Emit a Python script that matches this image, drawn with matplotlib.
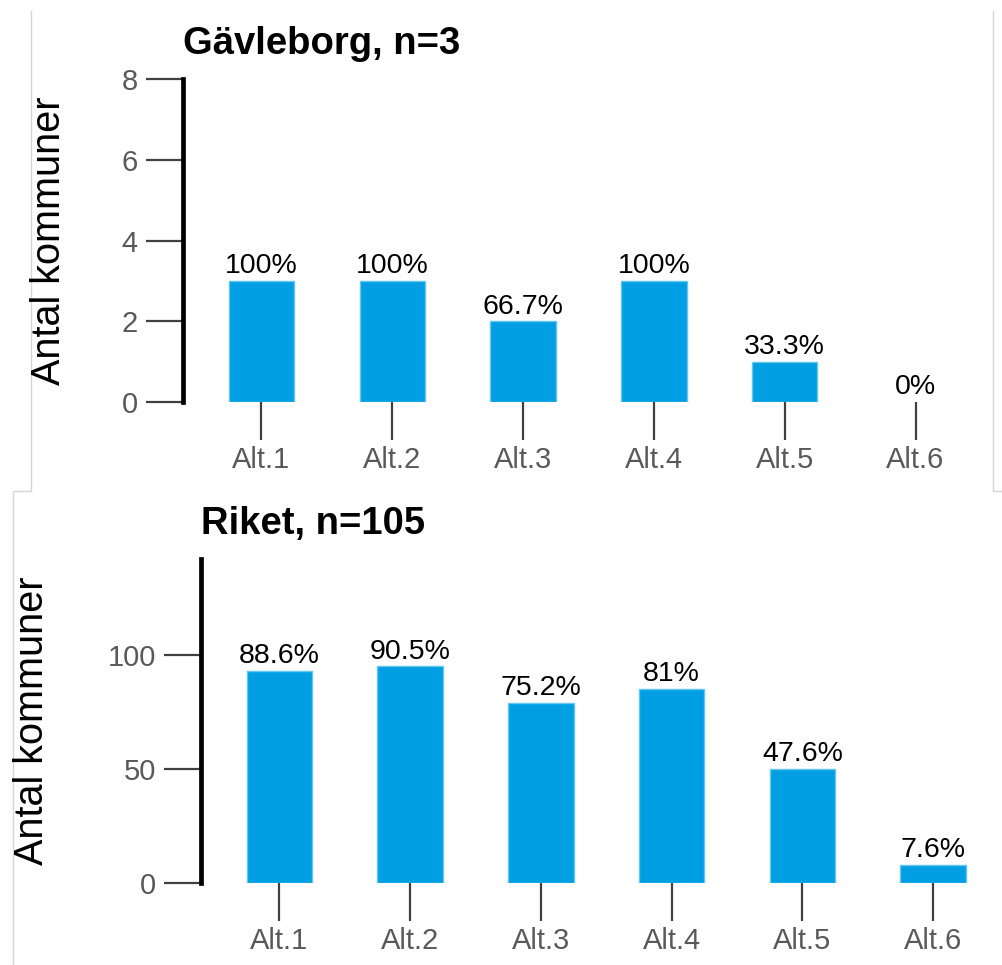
import matplotlib
matplotlib.use("Agg")
import matplotlib.pyplot as plt
from matplotlib.lines import Line2D

plt.rcParams['font.family'] = ['Liberation Sans', 'DejaVu Sans']

categories = ["Alt.1", "Alt.2", "Alt.3", "Alt.4", "Alt.5", "Alt.6"]
gavle_counts = [3, 3, 2, 3, 1, 0]
gavle_pct = ["100%", "100%", "66.7%", "100%", "33.3%", "0%"]
riket_counts = [93, 95, 79, 85, 50, 8]
riket_pct = ["88.6%", "90.5%", "75.2%", "81%", "47.6%", "7.6%"]
gavle_yticks = [0, 2, 4, 6, 8]
riket_yticks = [0, 50, 100]

W, H = 1003, 965
fig = plt.figure(figsize=(W / 100, H / 100), dpi=100)
fig.patch.set_facecolor("white")

BAR = "#009fe3"
EDGE = "#63c6ef"
TICKC = "#404040"
LABC = "#595959"


def px_axes(left, right, top, bottom):
    return fig.add_axes([left / W, 1 - bottom / H, (right - left) / W, (bottom - top) / H])


def panel(ax, counts, pcts, yticks, ylim, title):
    x = list(range(len(categories)))
    lws = [1 if c > 0 else 0 for c in counts]
    ax.bar(x, counts, width=0.5, color=BAR, edgecolor=EDGE, linewidth=lws, zorder=2)
    for xi, c, p in zip(x, counts, pcts):
        ax.annotate(p, (xi, c), xytext=(0, 5.5), textcoords="offset points",
                    ha="center", va="baseline", fontsize=20.5, color="black")
    ax.set_xlim(-0.6, 5.6)
    ax.set_ylim(*ylim)
    ax.set_xticks(x)
    ax.set_xticklabels(categories)
    ax.set_yticks(yticks)
    for s in ["top", "right", "bottom"]:
        ax.spines[s].set_visible(False)
    ax.spines["left"].set_color("black")
    ax.spines["left"].set_linewidth(3.4)
    ax.spines["left"].set_bounds(ylim[0], ylim[1])
    ax.tick_params(axis="both", direction="out", length=27, width=1.6, color=TICKC,
                   labelsize=21, labelcolor=LABC)
    ax.tick_params(axis="y", pad=5.5)
    ax.tick_params(axis="x", pad=5)
    ax.set_title(title, loc="left", fontsize=27.5, fontweight="bold", pad=18)
    ax.patch.set_alpha(0)


ax1 = px_axes(183, 994, 79, 402)
panel(ax1, gavle_counts, gavle_pct, gavle_yticks, (0, 8), "Gävleborg, n=3")
ax2 = px_axes(201, 1011.5, 559, 883)
panel(ax2, riket_counts, riket_pct, riket_yticks, (0, 142), "Riket, n=105")

fig.text(49 / W, 1 - 241 / H, "Antal kommuner", rotation=90, ha="center", va="center",
         fontsize=28.5, color="black")
fig.text(32 / W, 1 - 721 / H, "Antal kommuner", rotation=90, ha="center", va="center",
         fontsize=28.5, color="black")

# faint frame lines
def fline(xs, ys):
    fig.add_artist(Line2D([xx / W for xx in xs], [1 - yy / H for yy in ys],
                          transform=fig.transFigure, color="#d6d6d6", linewidth=1.0))

fline([31, 31, 12.7, 12.7], [11, 491, 491, 965])
fline([993, 993, 1003], [11, 491, 491])

fig.savefig("out.png", dpi=100)
